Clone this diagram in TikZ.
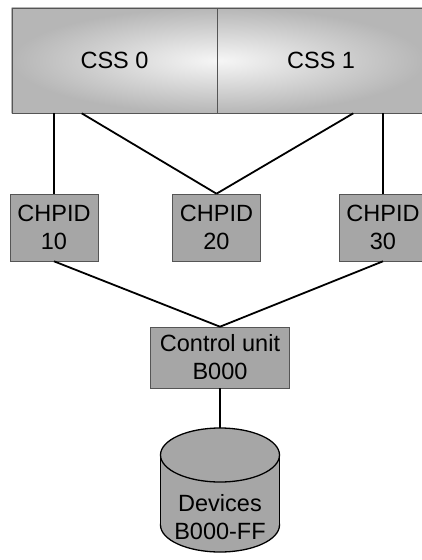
\documentclass[tikz,border=0pt]{standalone}
\usepackage{fontspec}
\setmainfont{Liberation Sans}
\usetikzlibrary{positioning,shapes.geometric,backgrounds}

\definecolor{boxgray}{RGB}{166,166,166}
\definecolor{edgegray}{RGB}{85,85,85}
\definecolor{cssdark}{RGB}{182,182,182}
\definecolor{csslight}{RGB}{246,246,246}

\tikzset{
  box/.style={draw=edgegray, fill=boxgray, line width=0.6pt, rectangle, inner sep=0pt, align=center},
  chpid/.style={box, minimum width=88pt, minimum height=67pt},
  link/.style={line width=1.8pt},
}

\begin{document}
\begin{tikzpicture}[x=1pt, y=-1pt, font=\fontsize{23.5}{28}\selectfont]
    \useasboundingbox (0,0) rectangle (422,560);

    % channel subsystems
    \node[draw=edgegray, line width=0.6pt, inner sep=0pt, minimum width=205pt,
    minimum height=105pt] (css0) at (114.5,60.5) {CSS 0};
    \node[draw=edgegray, line width=0.6pt, inner sep=0pt, minimum width=207pt,
    minimum height=105pt, right=0pt of css0] (css1) {CSS 1};
    \begin{scope}[on background layer]
        \shade[inner color=csslight, outer color=cssdark] (css0.north west) rectangle (css1.south east);
    \end{scope}

    % channel paths
    \node[chpid] (c10) at (54,227.5) {CHPID\\10};
    \node[chpid] (c20) at (216.5,227.5) {CHPID\\20};
    \node[chpid] (c30) at (383,227.5) {CHPID\\30};

    \node[box, minimum width=139pt, minimum height=61pt] (cu) at (220,357.5) {Control unit\\B000};

    % devices (cylinder)
    \filldraw[fill=boxgray, line width=1.3pt] (220,525) ellipse [x radius=59.5, y radius=27];
    \fill[boxgray] (160.5,455) rectangle (279.5,525);
    \draw[line width=1.3pt] (160.5,455) -- (160.5,525) (279.5,455) -- (279.5,525);
    \filldraw[fill=boxgray, line width=1.3pt] (220,455) ellipse [x radius=59.5, y radius=27];
    \coordinate (devtop) at (220,428);
    \node[align=center] (devtxt) at (220,517) {Devices\\B000-FF};

    \draw[link] (c10.north) -- (c10.north |- css0.south);
    \draw[link] ([xshift=70pt]css0.south west) -- (c20.north);
    \draw[link] ([xshift=136pt]css1.south west) -- (c20.north);
    \draw[link] (c30.north) -- (c30.north |- css1.south);
    \draw[link] (c10.south) -- (cu.north);
    \draw[link] (c30.south) -- (cu.north);
    \draw[link] (cu.south) -- (devtop);
\end{tikzpicture}
\end{document}
